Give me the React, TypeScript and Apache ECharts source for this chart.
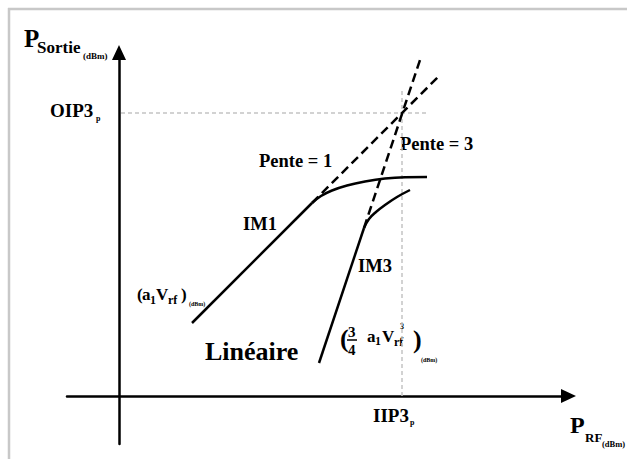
import React, { useEffect, useRef } from "react";
import * as echarts from "echarts";

// Conceptual coordinates in dBm (1 unit = 1 px), origin at axes crossing
const linearPts = [[73, 73], [193, 193]];
const compressionPts = [[193, 193], [202, 200], [213, 205.5], [228, 210.5], [246, 214.5], [266, 217.5], [286, 218.8], [308, 219]];
const im3LinePts = [[200, 33], [245, 168]];
const im3CurvePts = [[245, 168], [250, 177], [257, 184], [266, 191], [278, 199], [291, 206]];
const slope1Dashed = [[193, 193], [321, 321]];
const slope3Dashed = [[245, 168], [301, 336]];
const iip3Guide = [[283, 0], [283, 306]];
const oip3Guide = [[2, 283], [308, 283]];

const FONT = "'Liberation Serif', 'Times New Roman', serif";

// text labels: text, left x, baseline, font size
const labels = [
  { t: "P", x: 24, b: 47, fs: 25 },
  { t: "Sortie", x: 37, b: 53, fs: 17 },
  { t: "(dBm)", x: 83, b: 59, fs: 9 },
  { t: "OIP3", x: 50, b: 117, fs: 19 },
  { t: "p", x: 96, b: 121, fs: 8 },
  { t: "Pente = 1", x: 259, b: 167, fs: 18.5 },
  { t: "Pente = 3", x: 400, b: 150, fs: 18.5 },
  { t: "IM1", x: 243, b: 230, fs: 18.5 },
  { t: "IM3", x: 358, b: 272, fs: 18.5 },
  { t: "(", x: 137, b: 300, fs: 17 },
  { t: "a", x: 142, b: 300, fs: 17 },
  { t: "1", x: 150, b: 304, fs: 12 },
  { t: "V", x: 156, b: 300, fs: 17 },
  { t: "rf", x: 168, b: 304, fs: 12 },
  { t: ")", x: 181, b: 300, fs: 17 },
  { t: "(dBm)", x: 189, b: 306, fs: 6 },
  { t: "Linéaire", x: 205, b: 360, fs: 26 },
  { t: "(", x: 340, b: 347, fs: 26 },
  { t: "3", x: 348, b: 337, fs: 15 },
  { t: "4", x: 348, b: 355, fs: 15 },
  { t: "a", x: 367, b: 342, fs: 17 },
  { t: "1", x: 375, b: 345, fs: 12 },
  { t: "V", x: 382, b: 342, fs: 17 },
  { t: "rf", x: 394, b: 346, fs: 12 },
  { t: "3", x: 400, b: 329, fs: 8 },
  { t: ")", x: 413, b: 348, fs: 26 },
  { t: "(dBm)", x: 421, b: 362, fs: 6 },
  { t: "IIP3", x: 373, b: 422, fs: 19 },
  { t: "p", x: 410, b: 425, fs: 8 },
  { t: "P", x: 570, b: 433, fs: 24 },
  { t: "RF", x: 585, b: 442, fs: 13 },
  { t: "(dBm)", x: 602, b: 447, fs: 8.5 },
];

function lineSeries(data: number[][], opts: any) {
  return {
    type: "line",
    data,
    symbol: "none",
    showSymbol: false,
    silent: true,
    clip: false,
    smooth: opts.smooth || false,
    lineStyle: {
      color: opts.color || "#000",
      width: opts.width || 2.5,
      type: opts.type || "solid",
    },
  };
}

export default function App() {
  const ref = useRef<HTMLDivElement>(null);
  useEffect(() => {
    if (!ref.current) return;
    const chart = echarts.init(ref.current, null, { renderer: "svg" });
    const axisCommon = {
      type: "value",
      axisTick: { show: false },
      axisLabel: { show: false },
      splitLine: { show: false },
      axisLine: {
        show: true,
        onZero: true,
        symbol: ["none", "triangle"],
        symbolSize: [14, 15],
        lineStyle: { color: "#000", width: 2.5 },
      },
    };
    const graphicTexts = labels.map((l) => ({
      type: "text",
      silent: true,
      style: {
        text: l.t,
        x: l.x,
        y: l.b - 0.34 * l.fs,
        fontSize: l.fs,
        fontWeight: "bold",
        fontFamily: FONT,
        fill: "#000",
        align: "left",
        verticalAlign: "middle",
      },
    }));
    chart.setOption({
      animation: false,
      backgroundColor: "#fff",
      grid: { left: 67, top: 52.5, width: 501.5, height: 391.5 },
      xAxis: { ...axisCommon, min: -52, max: 449.5 },
      yAxis: { ...axisCommon, min: -48, max: 343.5 },
      series: [
        lineSeries(iip3Guide, { color: "#c4c4c4", width: 1.5, type: [4, 3] }),
        lineSeries(oip3Guide, { color: "#c4c4c4", width: 1.5, type: [4, 3] }),
        lineSeries(linearPts, {}),
        lineSeries(compressionPts, { smooth: 0.4 }),
        lineSeries(im3LinePts, {}),
        lineSeries(im3CurvePts, { smooth: 0.4 }),
        lineSeries(slope1Dashed, { type: [9, 5] }),
        lineSeries(slope3Dashed, { type: [9, 5] }),
      ],
      graphic: [
        { type: "line", silent: true, shape: { x1: 9, y1: 8, x2: 9, y2: 459 }, style: { stroke: "#c8c8c8", lineWidth: 2.5 } },
        { type: "line", silent: true, shape: { x1: 8, y1: 9, x2: 627, y2: 9 }, style: { stroke: "#c8c8c8", lineWidth: 2.5 } },
        { type: "line", silent: true, shape: { x1: 347, y1: 340, x2: 357, y2: 340 }, style: { stroke: "#000", lineWidth: 1.5 } },
        ...graphicTexts,
      ],
    });
    return () => chart.dispose();
  }, []);
  return (
    <div
      ref={ref}
      style={{ position: "absolute", left: 0, top: 0, width: 627, height: 459, background: "#fff" }}
    />
  );
}
